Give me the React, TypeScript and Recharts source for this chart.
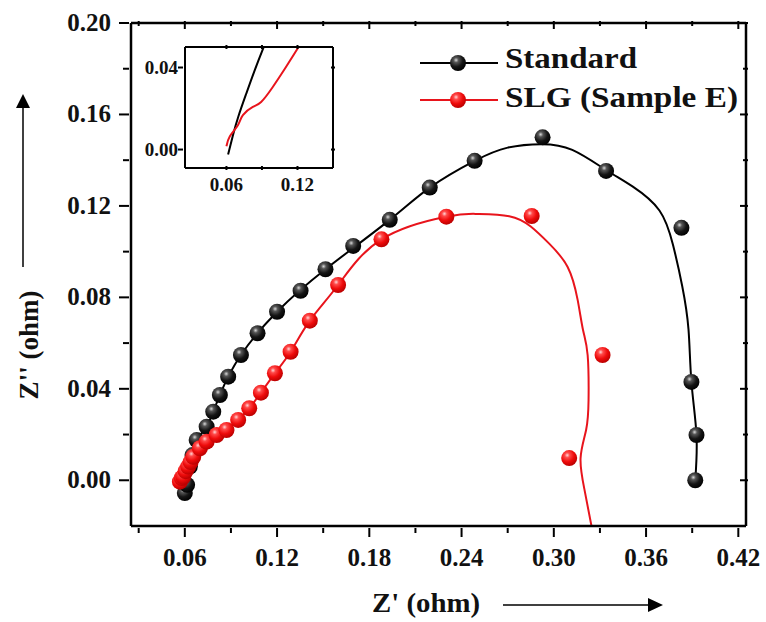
import React from "react";
import { ComposedChart, Line, Scatter, XAxis, YAxis } from "recharts";

// measured points, Z' vs Z''
const stdZre = [0.060, 0.0615, 0.0633, 0.065, 0.0677, 0.0742, 0.0785, 0.0828, 0.0882, 0.0965, 0.1073, 0.120, 0.1353, 0.1515, 0.1695, 0.1933, 0.2193, 0.2485, 0.2927, 0.334, 0.383, 0.3895, 0.3928, 0.392];
const stdZim = [-0.0056, -0.002, 0.006, 0.011, 0.0176, 0.0234, 0.030, 0.0373, 0.0453, 0.0548, 0.0643, 0.0737, 0.0829, 0.0923, 0.1025, 0.1139, 0.128, 0.1397, 0.150, 0.1353, 0.1104, 0.043, 0.0198, 0.0];
const slgZre = [0.0568, 0.058, 0.059, 0.0605, 0.0622, 0.0638, 0.0655, 0.0698, 0.0742, 0.0807, 0.0871, 0.0947, 0.1019, 0.1095, 0.1186, 0.1288, 0.1413, 0.1597, 0.1879, 0.2301, 0.2856, 0.3317, 0.310];
const slgZim = [-0.0006, 0.001, 0.0016, 0.004, 0.006, 0.008, 0.0103, 0.014, 0.0169, 0.0198, 0.022, 0.0264, 0.0315, 0.0383, 0.0468, 0.0562, 0.0698, 0.0854, 0.1054, 0.1153, 0.1156, 0.0548, 0.0097];

// fitted curves
const stdFitZre = [0.0605, 0.063, 0.0677, 0.0742, 0.0828, 0.0965, 0.120, 0.1515, 0.1933, 0.2193, 0.2485, 0.270, 0.292, 0.312, 0.334, 0.3514, 0.3687, 0.3775, 0.3835, 0.3876, 0.3895, 0.3928, 0.392];
const stdFitZim = [-0.004, 0.006, 0.0176, 0.0234, 0.0373, 0.0548, 0.0737, 0.0923, 0.1139, 0.128, 0.1397, 0.1455, 0.147, 0.1445, 0.1357, 0.1284, 0.118, 0.103, 0.085, 0.066, 0.043, 0.0198, 0.0];
const slgFitZre = [0.059, 0.0622, 0.0655, 0.0698, 0.0742, 0.0807, 0.0871, 0.0947, 0.1019, 0.1095, 0.1186, 0.1288, 0.1413, 0.1597, 0.1879, 0.2301, 0.25, 0.271, 0.285, 0.297, 0.309, 0.3155, 0.319, 0.322, 0.3226, 0.321, 0.3174, 0.320, 0.3245];
const slgFitZim = [0.0016, 0.006, 0.0103, 0.014, 0.0169, 0.0198, 0.022, 0.0264, 0.0315, 0.0383, 0.0468, 0.0562, 0.0698, 0.0854, 0.1054, 0.1153, 0.1165, 0.1155, 0.111, 0.1035, 0.0933, 0.0789, 0.0657, 0.0548, 0.0351, 0.022, 0.0097, -0.0043, -0.02];

// inset: close-up of the high-frequency end
const insetStdZre = [0.0614, 0.0655, 0.070, 0.0767, 0.0837, 0.0912, 0.095];
const insetStdZim = [-0.0024, 0.007, 0.016, 0.0272, 0.0384, 0.0496, 0.055];
const insetSlgZre = [0.060, 0.0628, 0.0698, 0.0739, 0.0823, 0.0893, 0.099, 0.110, 0.1205, 0.126];
const insetSlgZim = [0.0016, 0.0064, 0.012, 0.0168, 0.0208, 0.0232, 0.0304, 0.040, 0.0496, 0.055];

const xMajor = [0.06, 0.12, 0.18, 0.24, 0.30, 0.36, 0.42];
const xMinor = [0.03, 0.09, 0.15, 0.21, 0.27, 0.33, 0.39];
const yMajor = [0, 0.04, 0.08, 0.12, 0.16, 0.2];
const yMinor = [0.02, 0.06, 0.1, 0.14, 0.18];
const insetXMajor = [0.06, 0.12];
const insetXMinor = [0.09];
const insetYMajor = [0, 0.04];

const zip = (xs: number[], ys: number[]) => xs.map((x, i) => ({ x, y: ys[i] }));
const stdPts = zip(stdZre, stdZim);
const slgPts = zip(slgZre, slgZim);
const stdFit = zip(stdFitZre, stdFitZim);
const slgFit = zip(slgFitZre, slgFitZim);
const insetStd = zip(insetStdZre, insetStdZim);
const insetSlg = zip(insetSlgZre, insetSlgZim);

const RED = "#e8141c";
const FONT = "'Liberation Serif', 'Times New Roman', serif";

const isIn = (list: number[], v: number) => list.some((m) => Math.abs(m - v) < 1e-6);

// tick drawn by hand: dir = direction of the tick line, label offset relative to axis point
function makeTick(major: number[], dir: [number, number], len: [number, number], label?: { dx: number; dy: number; anchor: string; size: number }) {
  return (props: any) => {
    const { x, y, payload } = props;
    const big = isIn(major, payload.value);
    const l = big ? len[0] : len[1];
    return (
      <g>
        <line x1={x} y1={y} x2={x + dir[0] * l} y2={y + dir[1] * l} stroke="#000" strokeWidth={2} />
        {label && big && (
          <text x={x + label.dx} y={y + label.dy} textAnchor={label.anchor} fontFamily={FONT} fontWeight="bold" fontSize={label.size} fill="#111">
            {payload.value.toFixed(2)}
          </text>
        )}
      </g>
    );
  };
}

function Ball({ cx, cy, r = 8, fill }: any) {
  if (cx == null || cy == null) return null;
  return <circle cx={cx} cy={cy} r={r} fill={fill} />;
}

const frame = { stroke: "#000", strokeWidth: 2.5 };

function MainChart() {
  return (
    <ComposedChart width={766} height={622} margin={{ top: 22, right: 19, bottom: 56, left: 0 }}>
      <XAxis
        type="number" dataKey="x" domain={[0.025, 0.425]} allowDataOverflow
        ticks={[...xMajor, ...xMinor]} interval={0} height={40}
        tickSize={0} tickLine={false} axisLine={frame}
        tick={makeTick(xMajor, [0, 1], [9, 5], { dx: 0, dy: 38, anchor: "middle", size: 25 })}
      />
      <XAxis
        xAxisId="top" orientation="top" type="number" dataKey="x" domain={[0.025, 0.425]} allowDataOverflow
        ticks={[...xMajor, ...xMinor]} interval={0} height={1}
        tickSize={0} tickLine={false} axisLine={frame}
        tick={makeTick(xMajor, [0, 1], [8, 5])}
      />
      <YAxis
        type="number" dataKey="y" domain={[-0.02, 0.2]} allowDataOverflow
        ticks={[...yMajor, ...yMinor]} interval={0} width={131}
        tickSize={0} tickLine={false} axisLine={frame}
        tick={makeTick(yMajor, [-1, 0], [10, 6], { dx: -18, dy: 8, anchor: "end", size: 25 })}
      />
      <YAxis
        yAxisId="right" orientation="right" type="number" dataKey="y" domain={[-0.02, 0.2]} allowDataOverflow
        ticks={[...yMajor, ...yMinor]} interval={0} width={1}
        tickSize={0} tickLine={false} axisLine={frame}
        tick={makeTick(yMajor, [-1, 0], [8, 5])}
      />
      {/* invisible series so the top / right frame axes are in use */}
      <Line data={stdFit} xAxisId="top" yAxisId="right" dataKey="y" stroke="none" dot={false} activeDot={false} legendType="none" isAnimationActive={false} />
      <Line data={stdFit} dataKey="y" type="natural" stroke="#000" strokeWidth={2} dot={false} isAnimationActive={false} />
      <Line data={slgFit} dataKey="y" type="natural" stroke={RED} strokeWidth={2} dot={false} isAnimationActive={false} />
      <Scatter data={stdPts} dataKey="y" isAnimationActive={false} shape={(p: any) => <Ball cx={p.cx} cy={p.cy} fill="url(#ballBlack)" />} />
      <Scatter data={slgPts} dataKey="y" isAnimationActive={false} shape={(p: any) => <Ball cx={p.cx} cy={p.cy} fill="url(#ballRed)" />} />
    </ComposedChart>
  );
}

function InsetChart() {
  const thin = { stroke: "#000", strokeWidth: 2 };
  return (
    <ComposedChart width={210} height={160} margin={{ top: 6, right: 16, bottom: 0, left: 0 }}>
      <XAxis
        type="number" dataKey="x" domain={[0.025, 0.15]} allowDataOverflow
        ticks={[...insetXMajor, ...insetXMinor]} interval={0} height={32}
        tickSize={0} tickLine={false} axisLine={thin}
        tick={makeTick(insetXMajor, [0, -1], [4, 4], { dx: 0, dy: 21, anchor: "middle", size: 19 })}
      />
      <XAxis
        xAxisId="top" orientation="top" type="number" dataKey="x" domain={[0.025, 0.15]} allowDataOverflow
        ticks={[...insetXMajor, ...insetXMinor]} interval={0} height={1}
        tickSize={0} tickLine={false} axisLine={thin}
        tick={makeTick(insetXMajor, [0, 1], [4, 4])}
      />
      <YAxis
        type="number" dataKey="y" domain={[-0.009, 0.05]} allowDataOverflow
        ticks={insetYMajor} interval={0} width={45}
        tickSize={0} tickLine={false} axisLine={thin}
        tick={makeTick(insetYMajor, [-1, 0], [5, 5], { dx: -5, dy: 6, anchor: "end", size: 19 })}
      />
      <YAxis
        yAxisId="right" orientation="right" type="number" dataKey="y" domain={[-0.009, 0.05]} allowDataOverflow
        ticks={insetYMajor} interval={0} width={1}
        tickSize={0} tickLine={false} axisLine={thin}
        tick={makeTick(insetYMajor, [-1, 0], [4, 4])}
      />
      <Line data={insetStd} xAxisId="top" yAxisId="right" dataKey="y" stroke="none" dot={false} activeDot={false} legendType="none" isAnimationActive={false} />
      <Line data={insetStd} dataKey="y" type="natural" stroke="#000" strokeWidth={2} dot={false} isAnimationActive={false} />
      <Line data={insetSlg} dataKey="y" type="natural" stroke={RED} strokeWidth={2} dot={false} isAnimationActive={false} />
    </ComposedChart>
  );
}

function Overlay() {
  const t = { fontFamily: FONT, fontWeight: "bold" as const, fill: "#111" };
  return (
    <svg width={766} height={622} style={{ position: "absolute", left: 0, top: 0, pointerEvents: "none" }}>
      {/* legend */}
      <line x1={420} y1={63} x2={498} y2={63} stroke="#000" strokeWidth={2} />
      <Ball cx={458} cy={63} fill="url(#ballBlack)" />
      <text x={505} y={68} fontSize={29} textLength={132} lengthAdjust="spacingAndGlyphs" {...t}>Standard</text>
      <line x1={420} y1={100} x2={498} y2={100} stroke={RED} strokeWidth={2} />
      <Ball cx={458} cy={100} fill="url(#ballRed)" />
      <text x={505} y={107} fontSize={29} textLength={233} lengthAdjust="spacingAndGlyphs" {...t}>SLG (Sample E)</text>
      {/* axis titles with arrows */}
      <text x={426} y={612} fontSize={27} textAnchor="middle" textLength={108} lengthAdjust="spacingAndGlyphs" {...t}>Z' (ohm)</text>
      <line x1={503} y1={605} x2={650} y2={605} stroke="#000" strokeWidth={1.5} />
      <polygon points="648,598 663,605 648,612" fill="#000" />
      <text x={0} y={0} fontSize={27} textAnchor="middle" transform="translate(38,345) rotate(-90)" {...t}>Z'' (ohm)</text>
      <line x1={23} y1={267} x2={23} y2={106} stroke="#000" strokeWidth={1.5} />
      <polygon points="16,108 23,94 30,108" fill="#000" />
    </svg>
  );
}

export default function App() {
  return (
    <div style={{ position: "absolute", left: 0, top: 0, width: 766, height: 622, background: "#fff" }}>
      <svg width={0} height={0} style={{ position: "absolute" }}>
        <defs>
          <radialGradient id="ballBlack" cx="38%" cy="32%" r="70%">
            <stop offset="0%" stopColor="#d8d8d8" />
            <stop offset="22%" stopColor="#555" />
            <stop offset="60%" stopColor="#151515" />
            <stop offset="100%" stopColor="#000" />
          </radialGradient>
          <radialGradient id="ballRed" cx="38%" cy="32%" r="70%">
            <stop offset="0%" stopColor="#ffd6d6" />
            <stop offset="22%" stopColor="#ff4a4a" />
            <stop offset="60%" stopColor="#ee0b0b" />
            <stop offset="100%" stopColor="#b80000" />
          </radialGradient>
        </defs>
      </svg>
      <div style={{ position: "absolute", left: 0, top: 0 }}>
        <MainChart />
      </div>
      <div style={{ position: "absolute", left: 140, top: 40, background: "#fff" }}>
        <InsetChart />
      </div>
      <Overlay />
    </div>
  );
}
